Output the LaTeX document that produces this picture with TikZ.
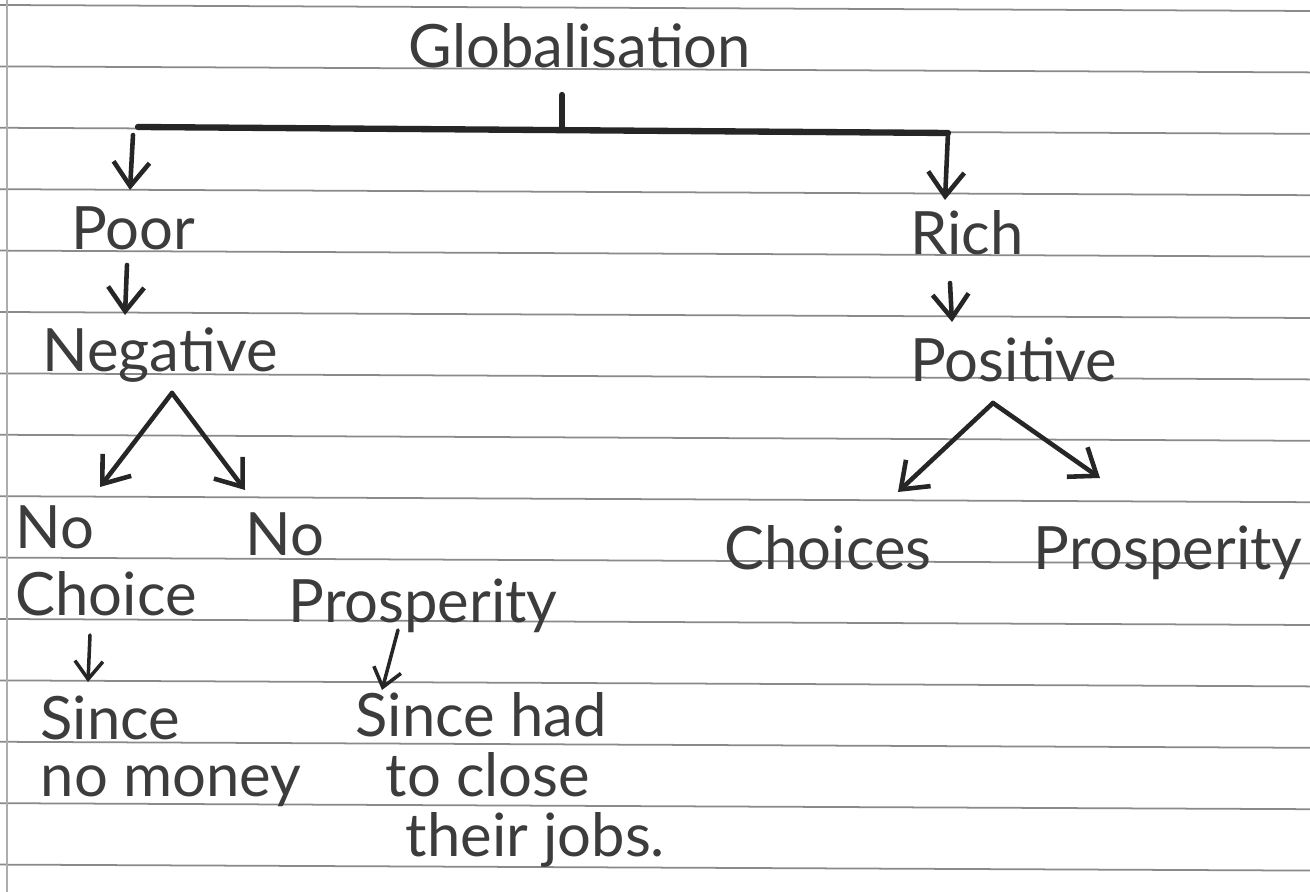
\documentclass[tikz,border=0pt]{standalone}
\usepackage{fontspec}
\setmainfont{Lato}
\usepackage{tikz}
\usetikzlibrary{arrows.meta}
\definecolor{ink}{HTML}{262626}
\definecolor{rule}{HTML}{8A8A8A}

\begin{document}
\begin{tikzpicture}[
  hand/.style={inner sep=0pt,text=ink!90,font=\fontsize{17}{19}\selectfont},
  arr/.style={ink,line width=1.3pt,line cap=round,-{Straight Barb[length=2.4mm,width=3.6mm]}},
  small/.style={ink,line width=1pt,line cap=round,-{Straight Barb[length=1.8mm,width=2.8mm]}}]

\fill[white] (0,0) rectangle (13.1,8.92);
\useasboundingbox (0,0) rectangle (13.1,8.92);
\foreach \k in {0,...,14}
  \draw[rule,line width=0.5pt] (0,{8.87-0.614*\k}) -- (13.1,{8.81-0.614*\k});
\draw[rule!70,line width=0.4pt] (0.07,0) -- (0.07,8.92);

\node[hand,anchor=base] (1) at (5.80,8.24){Globalisation};
\node[hand,anchor=base] (2) at (1.33,6.42){Poor};
\node[hand,anchor=base] (3) at (1.60,5.20){Negative};
\node[hand,anchor=base] (4) at (9.67,6.37){Rich};
\node[hand,anchor=base] (5) at (10.14,5.10){Positive};
\node[hand,align=left,anchor=north west] (6) at (0.15,3.87){No\\Choice};
\node[hand,align=left,anchor=north west] (7) at (2.45,3.80){No\\\hspace*{4.3mm}Prosperity};
\node[hand,anchor=base west] (8) at (7.24,3.22){Choices};
\node[hand,anchor=base west] (9) at (10.33,3.22){Prosperity};
\node[hand,align=left,anchor=north west] (10) at (0.40,1.97){Since\\[-1mm]no money};
\node[hand,align=left,anchor=north west] (11) at (3.55,2.00){Since had\\[-0.7mm]\hspace*{3mm}to close\\[-0.7mm]\hspace*{5mm}their jobs.};

\coordinate (a) at (1.38,7.65);
\coordinate (b) at (9.48,7.59);
\coordinate (c) at ([shift={(-0.18,-0.27)}]1.base);
\coordinate (d) at ([shift={(0.12,-0.21)}]3.base);
\coordinate (e) at ([shift={(-0.21,-0.21)}]5.base);

\draw[ink,line width=1.8pt,line cap=round] (c) -- (c |- a);
\draw[ink,line width=1.8pt,line cap=round] (a) -- (b);
\draw[arr] ([shift={(-0.05,-0.08)}]a) -- ([shift={(-0.03,0.60)}]2.base);
\draw[arr] (b) -- ([shift={(-0.22,0.55)}]4.base);
\draw[arr] ([shift={(-0.06,-0.15)}]2.base) -- ([shift={(-0.35,0.57)}]3.base);
\draw[arr] ([shift={(-0.17,-0.28)}]4.base) -- ([shift={(-0.62,0.60)}]5.base);
\draw[arr] (d) -- ([shift={(0.85,0.18)}]6.north west);
\draw[arr] (d) -- ([shift={(0,0.22)}]7.north west);
\draw[arr] (e) -- ([shift={(1.74,0.78)}]8.base west);
\draw[arr] (e) -- ([shift={(0.67,0.92)}]9.base west);
\draw[small] ([shift={(0.75,-1.30)}]6.north west) -- ([shift={(0.48,0.13)}]10.north west);
\draw[small] ([shift={(1.53,-1.18)}]7.north west) -- ([shift={(0.27,0.02)}]11.north west);

\end{tikzpicture}
\end{document}
